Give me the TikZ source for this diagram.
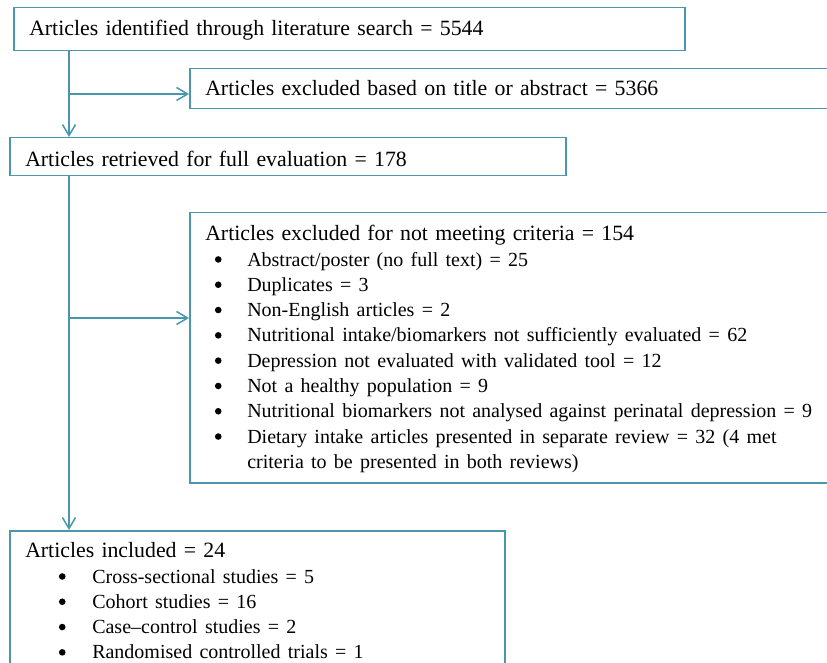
\documentclass[tikz,border=0pt]{standalone}
\usepackage{fontspec}
\setmainfont{Liberation Serif}
\usetikzlibrary{arrows.meta}

\definecolor{flowteal}{RGB}{74,150,173}
% bullet line: bullet centre offset, gap to text, text
\newcommand{\bulletdot}{\raisebox{3.3pt}{\tikz\fill[black] (0pt,0pt) circle (3.3pt);}}
\newcommand{\bitem}[3]{\\\hspace*{#1}\makebox[0pt]{\bulletdot}\hspace*{#2}%
  {\fontsize{20}{25.3}\selectfont #3}}

\begin{document}
\begin{tikzpicture}[x=1pt,y=-1pt,
  flowbox/.style={rectangle,draw=flowteal,line width=1.5pt,anchor=north west,
    inner xsep=15.5pt,inner ysep=0pt,align=left,
    font=\fontsize{21.8}{25.3}\selectfont},
  link/.style={draw=flowteal,line width=1.5pt,
    -{Straight Barb[length=11pt,width=13pt]}}]

  \useasboundingbox (0,0) rectangle (827,663);
  \clip (0,0) rectangle (827,663);

  % Search and screening

  \node [flowbox,text width=640pt,text height=28pt,text depth=15pt] (ID) at (13,7)
    {Articles identified through literature search = 5544};
  \node [flowbox,text width=700pt,text height=27pt,text depth=13pt] (EXA) at (189,68)
    {Articles excluded based on title or abstract = 5366};
  \node [flowbox,text width=525pt,text height=29pt,text depth=9pt] (FULL) at (9,137)
    {Articles retrieved for full evaluation = 178};

  % Full text exclusions

  \node [flowbox,text width=700pt,text height=28pt,text depth=242pt] (EXB) at (189,212)
    {Articles excluded for not meeting criteria = 154
     \bitem{13pt}{29pt}{Abstract/poster (no full text) = 25}
     \bitem{13pt}{29pt}{Duplicates = 3}
     \bitem{13pt}{29pt}{Non-English articles = 2}
     \bitem{13pt}{29pt}{Nutritional intake/biomarkers not sufficiently evaluated = 62}
     \bitem{13pt}{29pt}{Depression not evaluated with validated tool = 12}
     \bitem{13pt}{29pt}{Not a healthy population = 9}
     \bitem{13pt}{29pt}{Nutritional biomarkers not analysed against perinatal depression = 9}
     \bitem{13pt}{29pt}{Dietary intake articles presented in separate review = 32 (4 met}
     \\\hspace*{42pt}{\fontsize{20}{25.3}\selectfont criteria to be presented in both reviews)}};

  % Included studies

  \node [flowbox,text width=464pt,text height=27pt,text depth=200pt] (INC) at (9,530)
    {Articles included = 24
     \bitem{37pt}{30pt}{Cross-sectional studies = 5}
     \bitem{37pt}{30pt}{Cohort studies = 16}
     \bitem{37pt}{30pt}{Case–control studies = 2}
     \bitem{37pt}{30pt}{Randomised controlled trials = 1}};

  % Connections

  \coordinate (trunk) at (69,0);
  \coordinate (splitA) at (69,94);
  \coordinate (splitB) at (69,318);
  \draw [link] (trunk |- ID.south) -- (trunk |- FULL.north);
  \draw [link] (splitA) -- (splitA -| EXA.west);
  \draw [link] (trunk |- FULL.south) -- (trunk |- INC.north);
  \draw [link] (splitB) -- (splitB -| EXB.west);
\end{tikzpicture}
\end{document}
